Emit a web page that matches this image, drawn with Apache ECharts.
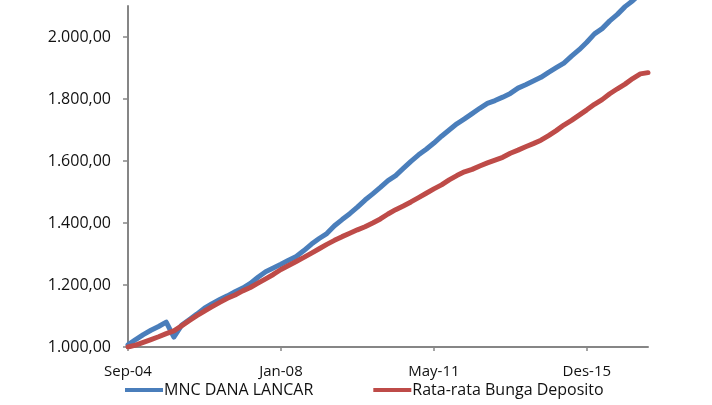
<!DOCTYPE html>
<html>
<head>
<meta charset="utf-8">
<script src="https://cdn.jsdelivr.net/npm/echarts@6/dist/echarts.min.js"></script>
<style>html,body{margin:0;padding:0;background:#fff}#c{width:712px;height:405px}</style>
</head>
<body>
<div id="c"></div>
<script>
var tickLabels = ['Sep-04', 'Jan-08', 'May-11', 'Des-15'];
var tickIndex = [0, 20, 40, 60];
var yTicks = [1000, 1200, 1400, 1600, 1800, 2000];
var seriesNames = ['MNC DANA LANCAR', 'Rata-rata Bunga Deposito'];
var mncDanaLancar = [1007,1024,1040,1054,1066,1080,1032,1070,1088,1106,1125,1140,1153,1165,1178,1190,1205,1225,1243,1255,1267,1280,1292,1311,1332,1350,1366,1391,1411,1430,1451,1474,1494,1515,1537,1553,1576,1599,1620,1638,1658,1680,1700,1720,1736,1753,1770,1786,1795,1806,1818,1835,1846,1858,1870,1886,1901,1916,1938,1959,1983,2010,2027,2052,2073,2098,2117,2140,2160];
var rataBungaDeposito = [1000,1006,1015,1024,1033,1043,1052,1068,1085,1101,1116,1130,1144,1157,1168,1181,1192,1206,1220,1234,1250,1263,1276,1289,1303,1317,1331,1344,1356,1367,1378,1388,1400,1413,1429,1443,1455,1468,1482,1496,1510,1523,1539,1553,1565,1573,1584,1594,1603,1612,1625,1635,1646,1656,1667,1682,1698,1716,1731,1748,1765,1783,1798,1817,1833,1848,1866,1881,1885];

function pairs(arr){ return arr.map(function(v,i){ return [i, v]; }); }
function fmtId(v){
  var s = Math.round(v).toString();
  return s.replace(/\B(?=(\d{3})+(?!\d))/g, '.') + ',00';
}
var FONT = 'Open Sans';
var chart = echarts.init(document.getElementById('c'));
chart.setOption({
  animation: false,
  backgroundColor: '#fff',
  grid: { left: 128, right: 64, top: 6, bottom: 58, containLabel: false },
  xAxis: {
    type: 'value', min: 0, max: mncDanaLancar.length - 1,
    axisLine: { lineStyle: { color: '#868686', width: 2 } },
    axisTick: { customValues: tickIndex, length: 4, lineStyle: { color: '#868686', width: 1.5 } },
    axisLabel: { customValues: tickIndex, color: '#111', fontFamily: FONT, fontSize: 15, margin: 17,
      formatter: function(v){ return tickLabels[tickIndex.indexOf(v)] || ''; } },
    splitLine: { show: false }
  },
  yAxis: {
    type: 'value', min: 1000, max: 2100,
    axisLine: { show: true, lineStyle: { color: '#868686', width: 2 } },
    axisTick: { show: true, customValues: yTicks, length: 5, lineStyle: { color: '#868686', width: 1.5 } },
    axisLabel: { customValues: yTicks, color: '#111', fontFamily: FONT, fontSize: 16, margin: 17, formatter: fmtId },
    splitLine: { show: false }
  },
  legend: {
    bottom: 2, left: 120, itemWidth: 38, itemHeight: 4, itemGap: 60,
    icon: 'rect',
    textStyle: { color: '#111', fontFamily: FONT, fontSize: 16, padding: [0,0,0,-4] },
    data: seriesNames
  },
  series: [
    { name: seriesNames[0], type: 'line', data: pairs(mncDanaLancar), showSymbol: false, symbol: 'none',
      clip: false, lineStyle: { color: '#4a7ebb', width: 5, cap: 'round', join: 'round' }, itemStyle: { color: '#4a7ebb' } },
    { name: seriesNames[1], type: 'line', data: pairs(rataBungaDeposito), showSymbol: false, symbol: 'none',
      lineStyle: { color: '#be4b48', width: 5, cap: 'round', join: 'round' }, itemStyle: { color: '#be4b48' } }
  ]
});
</script>
</body>
</html>
